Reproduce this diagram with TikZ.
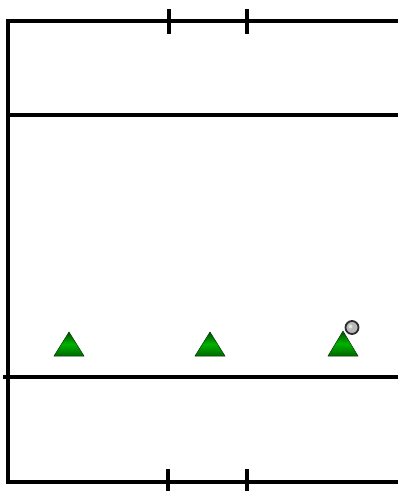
\documentclass[tikz,border=0pt]{standalone}
\begin{document}
\begin{tikzpicture}[x=1pt,y=-1pt,
  wall/.style={line width=3.2pt,black},
  tick/.style={line width=3.2pt,black},
  knob/.style={circle,inner sep=0pt,minimum size=13pt,fill=gray!55,draw=gray!35!black,line width=1.8pt}]
\useasboundingbox[fill=white] (0,0) rectangle (398,491);
% walls
\coordinate (tl) at (8,21);
\coordinate (tr) at (398,21);
\coordinate (bl) at (8,482);
\coordinate (br) at (398,482);
\draw[wall] (tr) -- (tl) -- (bl) -- (br);
\coordinate (m1l) at (8,115);
\coordinate (m1r) at (398,115);
\draw[wall] (m1l) -- (m1r);
\coordinate (m2l) at (3,377);
\coordinate (m2r) at (398,377);
\draw[wall] (m2l) -- (m2r);
% ticks top
\draw[tick] (169,9) -- (169,34);
\draw[tick] (247,9) -- (247,34);
% ticks bottom
\draw[tick] (168,469) -- (168,491);
\draw[tick] (247,469) -- (247,491);
% triangles
\foreach \cx/\ty in {69/332, 210/332, 343/331}{
  \shade[top color=green!30!black,bottom color=green!40!black,middle color=green!70!black]
    (\cx-15,356) -- (\cx,\ty) -- (\cx+15,356) -- cycle;
  \draw[draw=green!20!black,line width=0.5pt] (\cx-15,356) -- (\cx,\ty) -- (\cx+15,356) -- cycle;
}
\node[knob] (k) at (352,327.5) {};
\fill[white,opacity=0.6] (350.5,326.5) circle (2pt);
\end{tikzpicture}
\end{document}
